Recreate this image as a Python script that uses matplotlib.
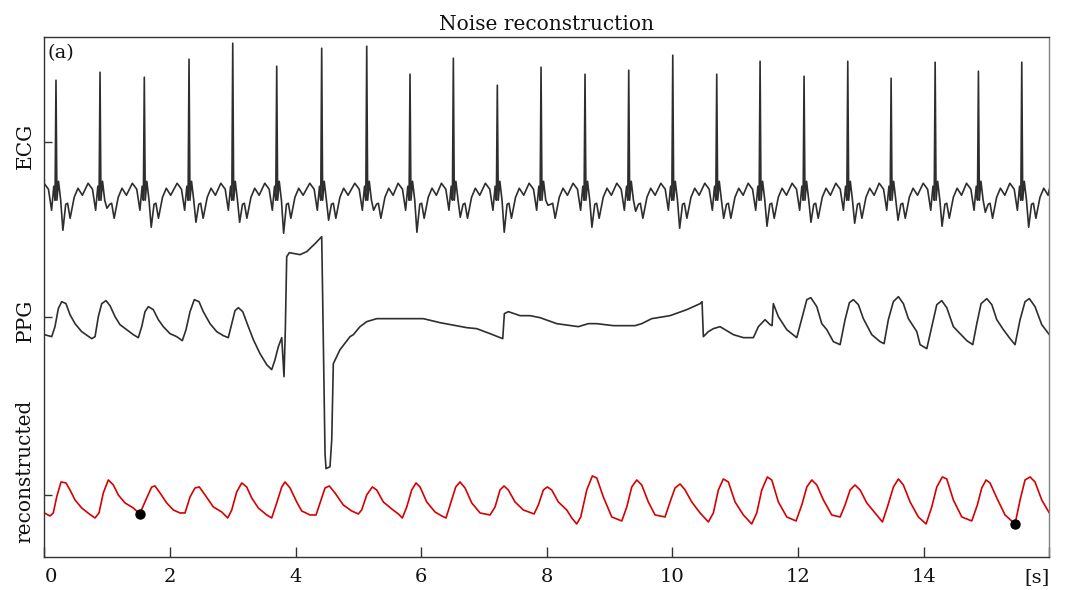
import matplotlib
matplotlib.use('Agg')
import matplotlib.pyplot as plt
import matplotlib.transforms as mtransforms
import numpy as np

plt.rcParams['font.family'] = ['DejaVu Serif']

# ---- ECG: one entry per beat (R time [s], R amplitude, S dip) ----
r_times = [0.186, 0.887, 1.592, 2.304, 3.000, 3.700, 4.416, 5.133, 5.822, 6.512, 7.212, 7.908,
           8.608, 9.304, 10.005, 10.705, 11.395, 12.095, 12.791, 13.481, 14.182, 14.871, 15.561]
r_peaks = [0.62, 0.70, 0.65, 0.83, 0.99, 0.76, 0.94, 0.96, 0.68, 0.84, 0.57, 0.75,
           0.68, 0.72, 0.87, 0.68, 0.81, 0.66, 0.81, 0.64, 0.80, 0.71, 0.80]
s_dips = [-0.88, -0.66, -0.85, -0.80, -0.80, -0.91, -0.78, -0.68, -0.90, -0.75, -0.90, -0.63,
          -0.85, -0.69, -0.86, -0.76, -0.84, -0.80, -0.81, -0.78, -0.84, -0.70, -0.85]
s_dt = 0.11
beat_dt = [-0.19, -0.12, -0.07, -0.035, -0.015, 0.015, 0.04, 0.075, 0.155, 0.185, 0.225, 0.29, 0.35, 0.42]
beat_v = [-0.41, -0.47, -0.68, -0.44, -0.58, -0.58, -0.39, -0.58, -0.62, -0.61, -0.76, -0.55, -0.46, -0.53]
ecg_edges_t = [0.0, 16.0]
ecg_edges_v = [-0.38, -0.47]

# ---- PPG (raw, with motion artefact) ----
ppg_t = [0.0, 0.118, 0.170, 0.223, 0.277, 0.345, 0.409, 0.489, 0.595, 0.685, 0.755, 0.808,
         0.860, 0.914, 0.982, 1.046, 1.126, 1.205, 1.312, 1.417, 1.497, 1.551, 1.603, 1.656,
         1.735, 1.815, 1.895, 2.001, 2.108, 2.197, 2.256, 2.320, 2.388, 2.463, 2.531, 2.638,
         2.745, 2.850, 2.929, 2.984, 3.036, 3.089, 3.159, 3.248, 3.328, 3.434, 3.541, 3.620,
         3.673, 3.726, 3.780, 3.816, 3.837, 3.859, 3.901, 3.991, 4.071, 4.178, 4.310, 4.416,
         4.432, 4.469, 4.485, 4.548, 4.576, 4.601, 4.708, 4.867, 4.920, 5.026, 5.133, 5.292,
         5.504, 5.770, 6.034, 6.300, 6.725, 6.884, 7.096, 7.298, 7.324, 7.387, 7.574, 7.733,
         7.892, 8.158, 8.502, 8.661, 8.795, 9.059, 9.405, 9.511, 9.670, 9.962, 10.228, 10.440,
         10.471, 10.492, 10.571, 10.651, 10.757, 10.970, 11.129, 11.288, 11.368, 11.474, 11.554, 11.586,
         11.606, 11.686, 11.820, 11.979, 12.059, 12.139, 12.202, 12.298, 12.377, 12.457, 12.562, 12.669,
         12.748, 12.817, 12.880, 12.960, 13.039, 13.173, 13.305, 13.369, 13.437, 13.517, 13.597, 13.676,
         13.756, 13.890, 13.942, 14.049, 14.128, 14.208, 14.287, 14.367, 14.472, 14.579, 14.686, 14.781,
         14.845, 14.913, 15.004, 15.084, 15.163, 15.268, 15.375, 15.454, 15.534, 15.613, 15.682, 15.772,
         15.879, 16.0]
ppg_v = [-0.18, -0.20, -0.10, 0.08, 0.15, 0.13, 0.02, -0.07, -0.15, -0.19, -0.22, -0.20,
         0.00, 0.13, 0.16, 0.11, 0.00, -0.08, -0.13, -0.18, -0.21, -0.10, 0.05, 0.10,
         0.07, -0.03, -0.10, -0.17, -0.20, -0.24, -0.13, 0.05, 0.17, 0.15, 0.05, -0.07,
         -0.15, -0.19, -0.21, -0.07, 0.06, 0.09, 0.05, -0.10, -0.23, -0.37, -0.48, -0.53,
         -0.43, -0.30, -0.21, -0.60, -0.13, 0.60, 0.64, 0.63, 0.62, 0.65, 0.73, 0.80,
         0.17, -1.37, -1.52, -1.50, -1.23, -0.47, -0.33, -0.20, -0.18, -0.10, -0.05, -0.02,
         -0.02, -0.02, -0.02, -0.06, -0.11, -0.12, -0.17, -0.22, 0.03, 0.05, 0.01, 0.01,
         -0.01, -0.07, -0.10, -0.07, -0.07, -0.09, -0.09, -0.07, -0.02, 0.01, 0.07, 0.13,
         0.15, -0.20, -0.15, -0.12, -0.10, -0.18, -0.21, -0.21, -0.10, -0.03, -0.08, -0.09,
         0.13, 0.00, -0.13, -0.21, -0.02, 0.17, 0.19, 0.10, -0.07, -0.13, -0.25, -0.28,
         -0.03, 0.14, 0.17, 0.12, -0.02, -0.18, -0.25, -0.27, -0.03, 0.15, 0.20, 0.13,
         -0.02, -0.15, -0.28, -0.32, -0.10, 0.12, 0.16, 0.09, -0.10, -0.17, -0.24, -0.28,
         -0.07, 0.13, 0.18, 0.12, -0.03, -0.13, -0.22, -0.28, -0.03, 0.15, 0.18, 0.10,
         -0.08, -0.18]

# ---- reconstructed PPG ----
rec_t = [0.0, 0.091, 0.143, 0.197, 0.266, 0.345, 0.409, 0.489, 0.595, 0.716, 0.807, 0.871,
         0.939, 1.019, 1.099, 1.178, 1.285, 1.417, 1.519, 1.630, 1.710, 1.762, 1.842, 1.949,
         2.054, 2.160, 2.240, 2.320, 2.399, 2.468, 2.559, 2.691, 2.824, 2.920, 2.984, 3.063,
         3.143, 3.222, 3.302, 3.407, 3.541, 3.620, 3.700, 3.780, 3.832, 3.912, 4.018, 4.098,
         4.230, 4.326, 4.389, 4.469, 4.537, 4.628, 4.760, 4.894, 4.999, 5.053, 5.133, 5.222,
         5.292, 5.397, 5.531, 5.636, 5.700, 5.770, 5.849, 5.918, 5.982, 6.088, 6.220, 6.327,
         6.395, 6.470, 6.550, 6.618, 6.698, 6.805, 6.937, 7.096, 7.176, 7.255, 7.319, 7.387,
         7.494, 7.626, 7.797, 7.865, 7.945, 8.008, 8.078, 8.183, 8.317, 8.397, 8.476, 8.540,
         8.636, 8.725, 8.795, 8.900, 9.034, 9.193, 9.273, 9.352, 9.432, 9.511, 9.616, 9.723,
         9.882, 9.962, 10.041, 10.121, 10.201, 10.307, 10.440, 10.572, 10.651, 10.731, 10.810, 10.890,
         10.997, 11.129, 11.262, 11.342, 11.422, 11.511, 11.581, 11.686, 11.820, 11.968, 12.059, 12.139,
         12.218, 12.298, 12.403, 12.536, 12.669, 12.748, 12.828, 12.907, 12.987, 13.094, 13.226, 13.343,
         13.422, 13.518, 13.597, 13.676, 13.783, 13.915, 14.038, 14.128, 14.208, 14.297, 14.367, 14.472,
         14.606, 14.765, 14.854, 14.924, 14.993, 15.056, 15.163, 15.295, 15.454, 15.534, 15.613, 15.693,
         15.772, 15.879, 16.0]
rec_v = [-0.18, -0.21, -0.18, -0.02, 0.13, 0.12, 0.05, -0.05, -0.13, -0.19, -0.23, -0.18,
         0.02, 0.15, 0.10, 0.00, -0.08, -0.13, -0.19, -0.03, 0.08, 0.09, 0.02, -0.08,
         -0.15, -0.18, -0.18, -0.02, 0.07, 0.08, 0.00, -0.12, -0.17, -0.23, -0.15, 0.03,
         0.12, 0.08, -0.03, -0.13, -0.20, -0.23, -0.08, 0.08, 0.13, 0.07, -0.07, -0.16,
         -0.20, -0.20, -0.08, 0.07, 0.09, 0.02, -0.10, -0.16, -0.19, -0.15, 0.00, 0.08,
         0.05, -0.07, -0.14, -0.19, -0.23, -0.12, 0.05, 0.12, 0.08, -0.07, -0.17, -0.21,
         -0.23, -0.08, 0.08, 0.13, 0.07, -0.08, -0.18, -0.20, -0.12, 0.05, 0.09, 0.05,
         -0.07, -0.15, -0.19, -0.10, 0.05, 0.08, 0.05, -0.07, -0.15, -0.23, -0.29, -0.22,
         0.05, 0.19, 0.17, -0.02, -0.22, -0.26, -0.12, 0.08, 0.15, 0.10, -0.07, -0.20,
         -0.22, -0.07, 0.07, 0.11, 0.05, -0.07, -0.18, -0.27, -0.18, 0.05, 0.16, 0.13,
         -0.07, -0.20, -0.29, -0.18, 0.05, 0.18, 0.15, -0.07, -0.22, -0.26, -0.10, 0.08,
         0.15, 0.10, -0.05, -0.20, -0.22, -0.10, 0.05, 0.10, 0.05, -0.08, -0.18, -0.27,
         -0.12, 0.08, 0.16, 0.10, -0.07, -0.22, -0.29, -0.12, 0.08, 0.18, 0.16, -0.05,
         -0.22, -0.26, -0.10, 0.07, 0.15, 0.12, -0.03, -0.20, -0.29, -0.05, 0.15, 0.18,
         0.13, -0.05, -0.18]
# the two marked points on the reconstruction
mark_t = [1.519, 15.454]
mark_v = [-0.19, -0.29]

# channel baselines on the shared y axis
channels = ['ECG', 'PPG', 'reconstructed']
offsets = [3.527, 1.783, 0.0]
label_y = [3.49, 1.75, 0.24]


# assemble the ECG trace beat by beat
ecg_t = list(ecg_edges_t[:1])
ecg_v = list(ecg_edges_v[:1])
for rt, rp, sd in zip(r_times, r_peaks, s_dips):
    pts = list(zip(beat_dt, beat_v)) + [(0.0, rp), (s_dt, sd)]
    pts.sort()
    for dt, v in pts:
        ecg_t.append(rt + dt)
        ecg_v.append(v)
ecg_t.append(ecg_edges_t[1])
ecg_v.append(ecg_edges_v[1])

ink = '#2e2e2e'
red = '#d60000'

fig = plt.figure(figsize=(10.65, 5.9), dpi=100)
ax = fig.add_axes([0.0416, 0.0565, 0.9437, 0.8814])

ax.plot(ecg_t, np.array(ecg_v) + offsets[0], color=ink, lw=1.2)
ax.plot(ppg_t, np.array(ppg_v) + offsets[1], color=ink, lw=1.2)
ax.plot(rec_t, np.array(rec_v) + offsets[2], color=red, lw=1.2)
ax.plot(mark_t, np.array(mark_v) + offsets[2], 'o', color='black', ms=6.5)

ax.set_xlim(0, 16)
ax.set_ylim(-0.617, 4.583)

ax.set_xticks(np.arange(0, 17, 2))
ax.set_xticklabels([str(v) for v in range(0, 15, 2)] + ['[s]'])
ax.get_xticklabels()[0].set_ha('left')
ax.get_xticklabels()[-1].set_ha('right')
ax.set_yticks(offsets)
ax.set_yticklabels([])
ax.tick_params(axis='x', direction='in', length=7, width=1, colors='#333333',
               labelsize=14, labelcolor='#111111', pad=8)
ax.tick_params(axis='y', direction='in', length=6, width=1, colors='#333333')

trans = mtransforms.blended_transform_factory(ax.transAxes, ax.transData)
for name, yl in zip(channels, label_y):
    ax.text(-0.0192, yl, name, transform=trans, rotation=90, ha='center', va='center',
            fontsize=14.5, color='#111111')

ax.text(0.003, 0.986, '(a)', transform=ax.transAxes, ha='left', va='top', fontsize=14, color='#111111')
ax.set_title('Noise reconstruction', fontsize=14.5, pad=5, color='#111111')

for side in ['left', 'bottom', 'top']:
    ax.spines[side].set_color('#333333')
    ax.spines[side].set_linewidth(1.0)
ax.spines['right'].set_color('#808080')
ax.spines['right'].set_linewidth(1.0)

fig.savefig('out.png', dpi=100)
